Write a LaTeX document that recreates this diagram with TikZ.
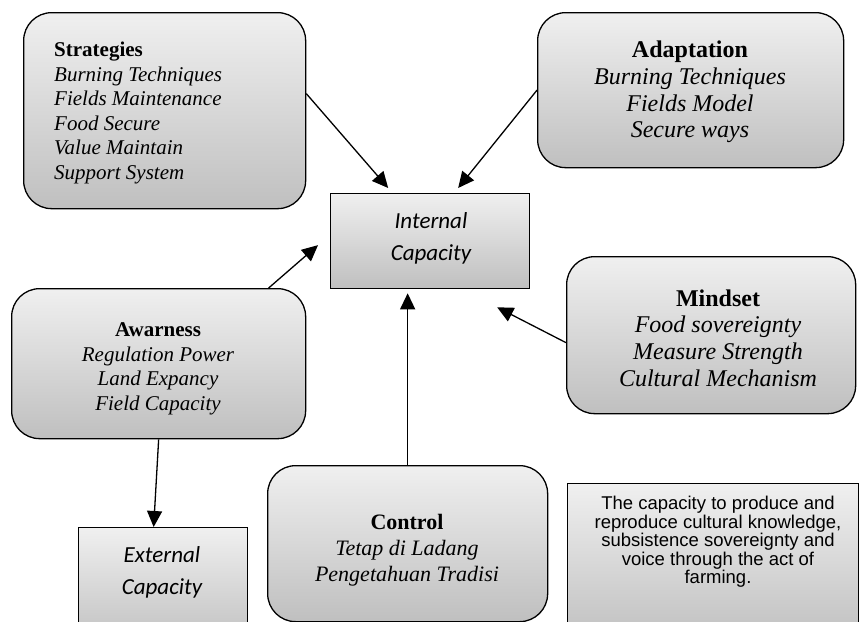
\documentclass[tikz,border=0pt]{standalone}
\usepackage{fontspec}
\setmainfont{Liberation Serif}
\newfontfamily\calibrifont{Carlito}
\newfontfamily\arialfont{Liberation Sans}
\usetikzlibrary{arrows.meta}
\begin{document}
\begin{tikzpicture}[x=1pt,y=-1pt,
  boxshade/.style={draw=black, line width=1.3pt, top color=gray!12, bottom color=gray!50, inner sep=0pt, anchor=north west},
  rbox/.style={boxshade, rounded corners=28pt},
  sbox/.style={boxshade},
  arr/.style={line width=1.3pt, -{Triangle[length=16pt,width=15pt]}},
  tnr/.style={align=center, inner sep=0pt},
  smallT/.style={font=\fontsize{21}{24.5}\selectfont},
  bigT/.style={font=\fontsize{24}{26.7}\selectfont},
  midT/.style={font=\fontsize{22}{26}\selectfont},
  capT/.style={align=center, inner sep=0pt, font=\calibrifont\itshape\fontsize{23}{32}\selectfont},
  arialT/.style={align=center, inner sep=0pt, font=\arialfont\fontsize{18.5}{18.4}\selectfont}
]
\useasboundingbox (0,0) rectangle (859,621);
\clip (0,0) rectangle (859,621);

% boxes
\node[rbox, minimum width=282pt, minimum height=196pt] (strat) at (23,12) {};
\node[rbox, minimum width=306pt, minimum height=155pt] (adp) at (537,12) {};
\node[sbox, minimum width=199pt, minimum height=95pt] (int) at (330,193) {};
\node[rbox, minimum width=294pt, minimum height=150pt] (awr) at (11,288) {};
\node[rbox, minimum width=289pt, minimum height=157pt] (mind) at (566,256) {};
\node[rbox, minimum width=280pt, minimum height=156pt] (ctl) at (267,465) {};
\node[sbox, minimum width=169pt, minimum height=120pt] (ext) at (78,527) {};
\node[sbox, minimum width=291pt, minimum height=160pt] (txt) at (567,483) {};

% texts
\node[tnr, smallT, anchor=west, align=left] (stratT) at (54,113)
  {\textbf{Strategies}\\\textit{Burning Techniques}\\\textit{Fields Maintenance}\\\textit{Food Secure}\\\textit{Value Maintain}\\\textit{Support System}};
\node[tnr, bigT] (adpT) at (690,92)
  {\textbf{Adaptation}\\\textit{Burning Techniques}\\\textit{Fields Model}\\\textit{Secure ways}};
\node[capT] (intT) at (431,238) {Internal\\Capacity};
\node[tnr, smallT] (awrT) at (158,369)
  {\textbf{Awarness}\\\textit{Regulation Power}\\\textit{Land Expancy}\\\textit{Field Capacity}};
\node[tnr, bigT] (mindT) at (718,338)
  {\textbf{Mindset}\\\textit{Food sovereignty}\\\textit{Measure Strength}\\\textit{Cultural Mechanism}};
\node[tnr, midT] (ctlT) at (407,550)
  {\textbf{Control}\\\textit{Tetap di Ladang}\\\textit{Pengetahuan Tradisi}};
\node[capT] (extT) at (162,572) {External\\Capacity};
\node[arialT] (txtT) at (718,542)
  {The capacity to produce and\\reproduce cultural knowledge,\\subsistence sovereignty and\\voice through the act of\\farming.};

% connectors
\draw[arr] ([yshift=17pt]strat.east) -- ([xshift=-42pt,yshift=5pt]int.north);
\draw[arr] (adp.west) -- ([xshift=28pt,yshift=5pt]int.north);
\draw[arr] ([xshift=110pt]awr.north) -- ([xshift=-12pt,yshift=-4pt]int.west);
\draw[arr] ([yshift=-7.5pt]mind.west) -- ([xshift=67pt,yshift=-18pt]int.south);
\draw[arr] (ctl.north) -- ([xshift=-22.5pt,yshift=-4pt]int.south);
\draw[arr] (awr.south) -- ([xshift=-9.5pt]ext.north);
\end{tikzpicture}
\end{document}
